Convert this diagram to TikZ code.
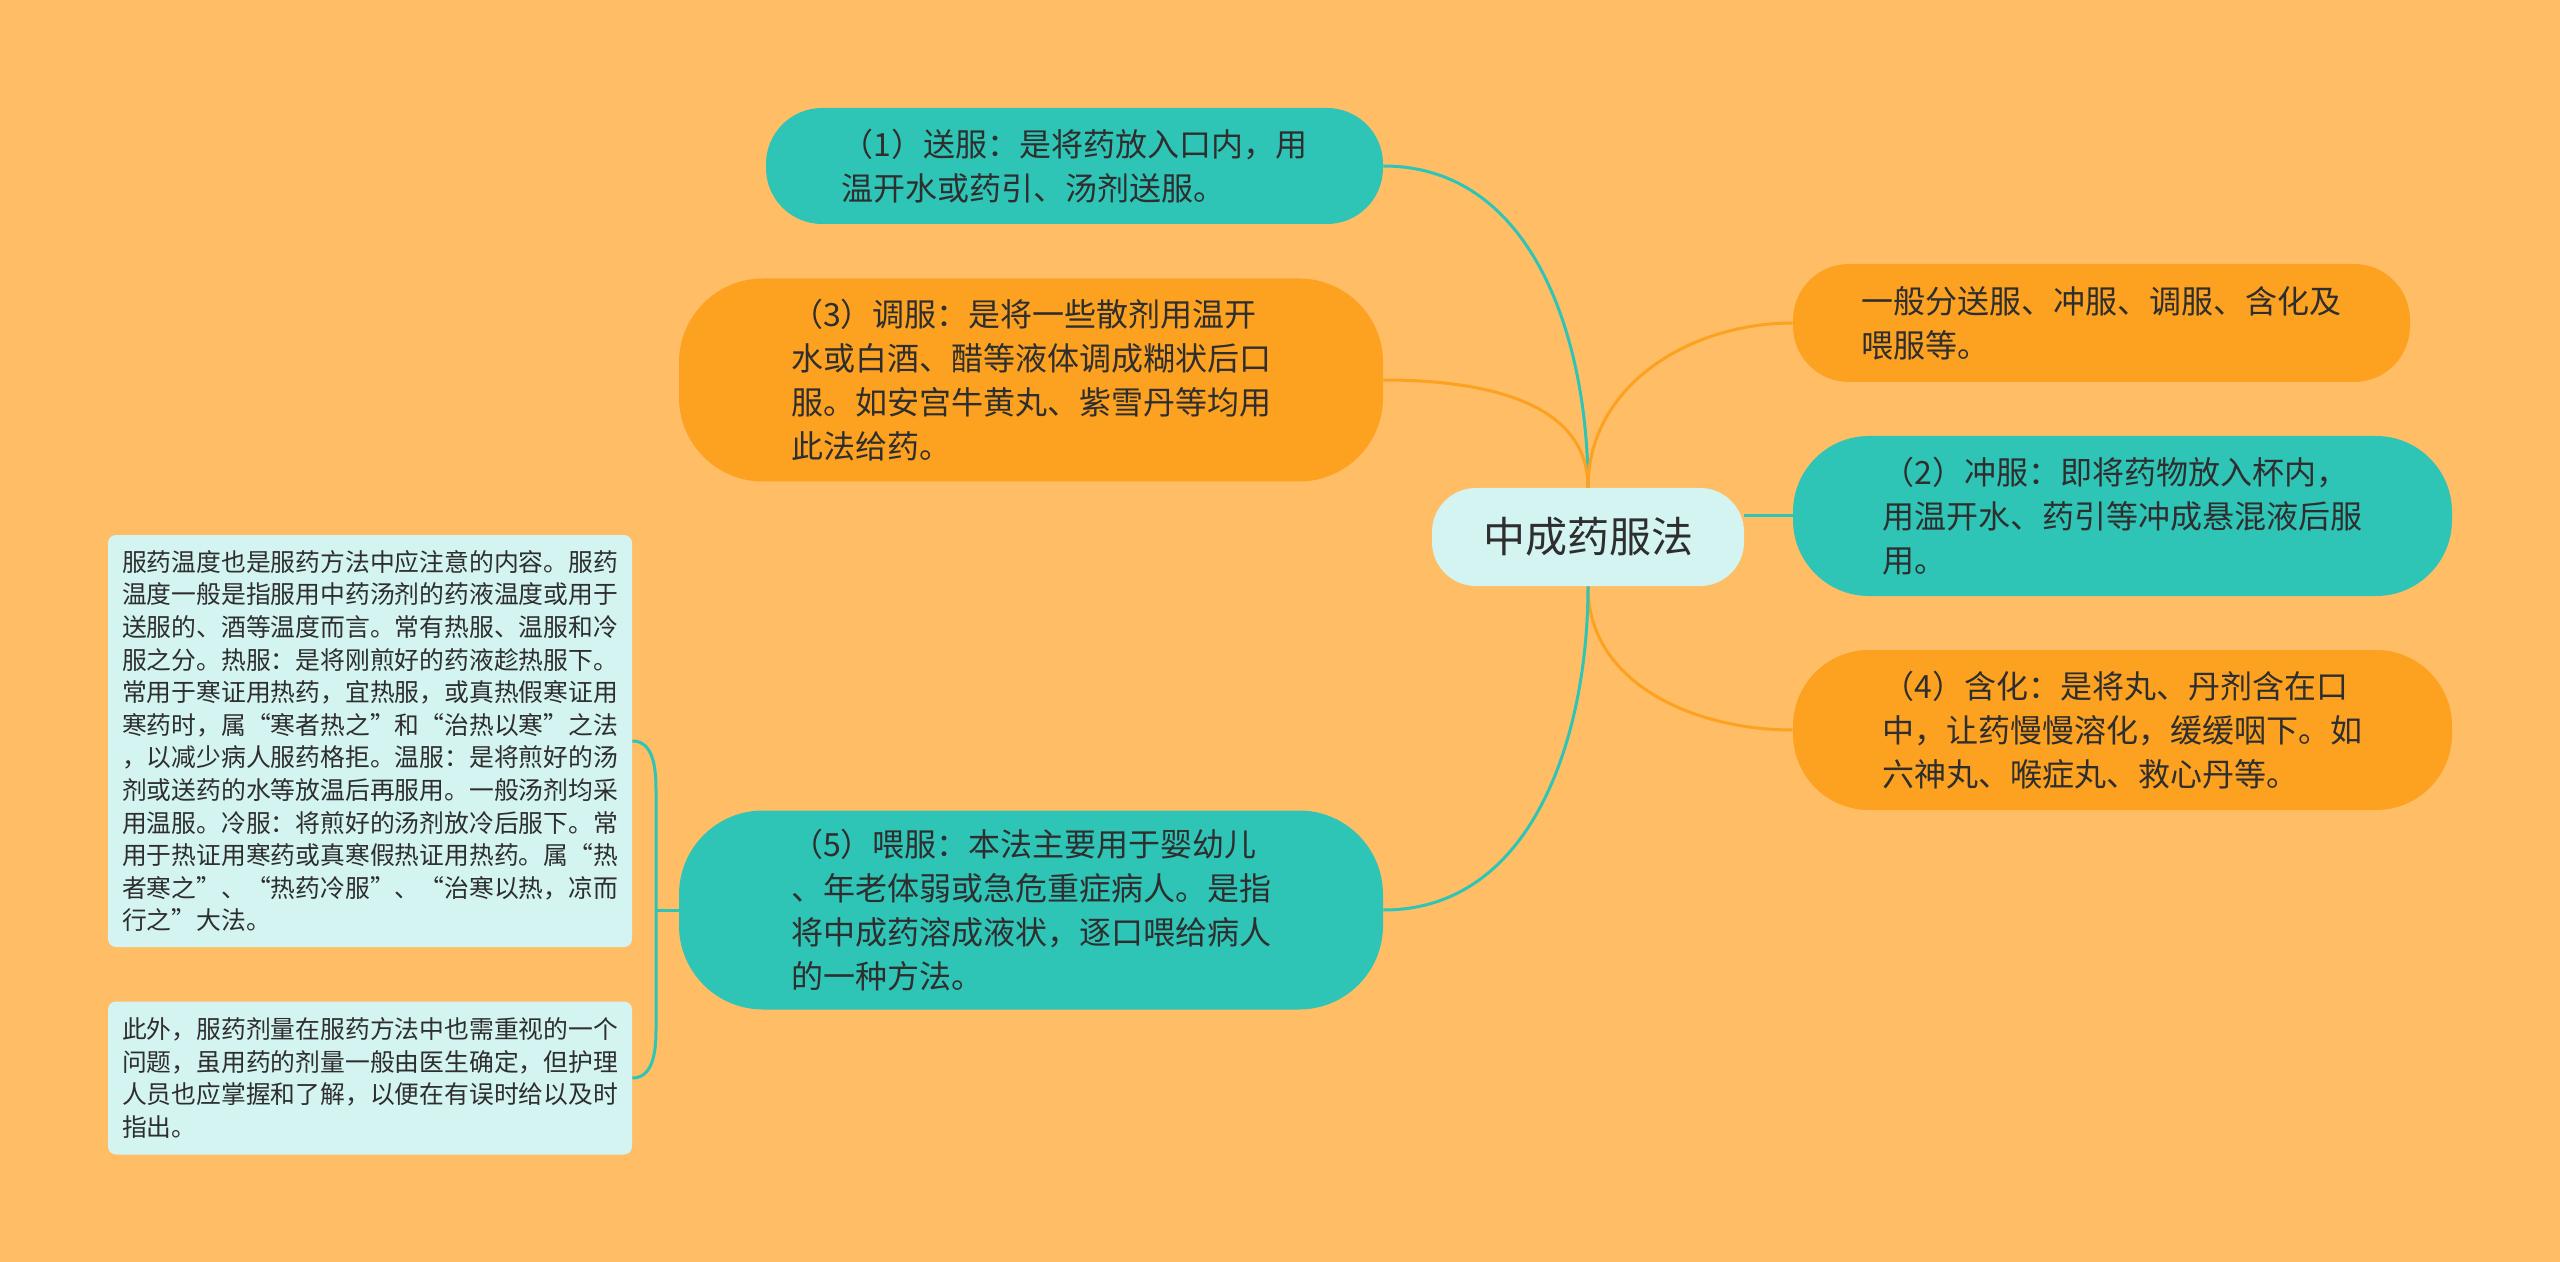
\documentclass[tikz,border=0pt]{standalone}
\usepackage{fontspec}
\setmainfont{Noto Sans CJK SC}
\usepackage{tikz}

\definecolor{bgcol}{HTML}{FFBE66}
\definecolor{tealcol}{HTML}{2EC4B6}
\definecolor{orangecol}{HTML}{FCA120}
\definecolor{lightcol}{HTML}{D4F4F1}
\definecolor{textcol}{HTML}{2E2E2E}

\tikzset{
  topicbox/.style={fill=#1, text=textcol, align=left, inner sep=0pt,
    font=\fontsize{16}{22}\selectfont},
  notebox/.style={fill=lightcol, text=textcol, align=left, inner sep=0pt,
    rounded corners=4pt, minimum width=262pt, font=\fontsize{12.4}{16.3}\selectfont},
  tealline/.style={draw=tealcol, line width=1.5pt},
  orangeline/.style={draw=orangecol, line width=1.5pt}
}

\begin{document}
\begin{tikzpicture}[x=0.5pt,y=-0.5pt]
\fill[bgcol] (0,0) rectangle (2560,1262);
\useasboundingbox (0,0) rectangle (2560,1262);

% root
\node[fill=lightcol, text=textcol, rounded corners=22pt, minimum width=156pt,
  minimum height=49pt, font=\fontsize{21}{25}\selectfont] (root) at (1588,537) {中成药服法};

% left side
\node[topicbox=tealcol, minimum width=308.5pt, minimum height=58pt, rounded corners=28pt]
  (n1) at (1074.5,166) {（1）送服：是将药放入口内，用\\温开水或药引、汤剂送服。};
\node[topicbox=orangecol, minimum width=352pt, minimum height=101.5pt, rounded corners=42pt]
  (n3) at (1031,380) {（3）调服：是将一些散剂用温开\\水或白酒、醋等液体调成糊状后口\\服。如安宫牛黄丸、紫雪丹等均用\\此法给药。};
\node[topicbox=tealcol, minimum width=352pt, minimum height=99.5pt, rounded corners=42pt]
  (n5) at (1031,910) {（5）喂服：本法主要用于婴幼儿\\、年老体弱或急危重症病人。是指\\将中成药溶成液状，逐口喂给病人\\的一种方法。};

% right side
\node[topicbox=orangecol, minimum width=308.5pt, minimum height=59pt, rounded corners=28pt]
  (r0) at (2101.5,323) {一般分送服、冲服、调服、含化及\\喂服等。};
\node[topicbox=tealcol, minimum width=329.5pt, minimum height=80pt, rounded corners=38pt]
  (n2) at (2122.5,516) {（2）冲服：即将药物放入杯内，\\用温开水、药引等冲成悬混液后服\\用。};
\node[topicbox=orangecol, minimum width=329.5pt, minimum height=80pt, rounded corners=38pt]
  (n4) at (2122.5,730) {（4）含化：是将丸、丹剂含在口\\中，让药慢慢溶化，缓缓咽下。如\\六神丸、喉症丸、救心丹等。};

% notes
\node[notebox, minimum height=206pt] (b1) at (370,741) {服药温度也是服药方法中应注意的内容。服药\\温度一般是指服用中药汤剂的药液温度或用于\\送服的、酒等温度而言。常有热服、温服和冷\\服之分。热服：是将刚煎好的药液趁热服下。\\常用于寒证用热药，宜热服，或真热假寒证用\\寒药时，属“寒者热之”和“治热以寒”之法\\，以减少病人服药格拒。温服：是将煎好的汤\\剂或送药的水等放温后再服用。一般汤剂均采\\用温服。冷服：将煎好的汤剂放冷后服下。常\\用于热证用寒药或真寒假热证用热药。属“热\\者寒之”、“热药冷服”、“治寒以热，凉而\\行之”大法。};
\node[notebox, minimum height=76.5pt] (b2) at (370,1078) {此外，服药剂量在服药方法中也需重视的一个\\问题，虽用药的剂量一般由医生确定，但护理\\人员也应掌握和了解，以便在有误时给以及时\\指出。};

% links
\draw[tealline] (root.north) to[out=90,in=0] (n1.east);
\draw[orangeline] (root.north) to[out=90,in=0] (n3.east);
\draw[orangeline] (root.north) to[out=90,in=180] (r0.west);
\draw[tealline] (root.east |- n2.west) -- (n2.west);
\draw[orangeline] (root.south) to[out=-90,in=180] (n4.west);
\draw[tealline] (root.south) to[out=-90,in=0] (n5.east);

\coordinate (j) at (656,910);
\draw[tealline] (n5.west) -- (j);
\draw[tealline] (j) -- ++(0,-120) to[out=90,in=0] (b1.east);
\draw[tealline] (j) -- ++(0,120) to[out=-90,in=0] (b2.east);
\end{tikzpicture}
\end{document}
